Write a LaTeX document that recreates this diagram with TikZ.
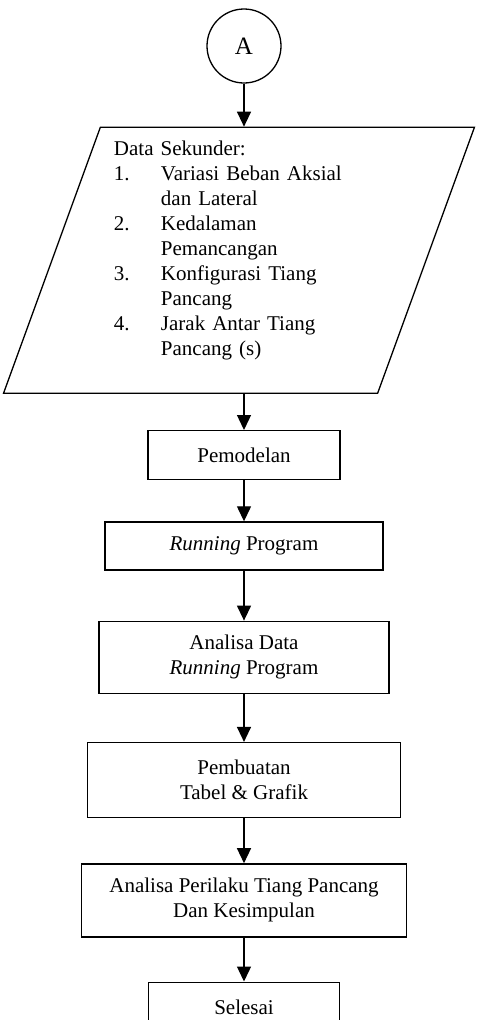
\documentclass[tikz,border=0pt]{standalone}
\usepackage{fontspec}
\setmainfont{Liberation Serif}
\usetikzlibrary{shapes.geometric,arrows.meta,positioning}

\newcommand{\numitem}[1]{\makebox[47pt][l]{#1}}

\begin{document}
\begin{tikzpicture}[
    x=1pt, y=1pt,
    every node/.style={font=\fontsize{21}{25}\selectfont},
    connector/.style={circle, draw, line width=1.3pt, minimum size=74pt, inner sep=0pt, font=\fontsize{25}{30}\selectfont},
    input/.style={trapezium, trapezium left angle=70, trapezium right angle=110, trapezium stretches=true, draw, line width=1.3pt, text width=250pt, align=left, minimum width=472pt, minimum height=266pt},
    process/.style={rectangle, draw, line width=1.3pt, align=center},
    arrow/.style={line width=1.3pt, -{Triangle[length=15pt,width=14pt]}}
]

% Page size
\useasboundingbox (0,0) rectangle (477,-1020);
\clip (0,0) rectangle (477,-1020);

% Connector
\node[connector] (conA) at (244,-46) {A};

% Input data
\node[input, below=43pt of conA, xshift=-5pt] (data) {Data Sekunder:\\
    \numitem{1.}Variasi Beban Aksial\\
    \numitem{}dan Lateral\\
    \numitem{2.}Kedalaman\\
    \numitem{}Pemancangan\\
    \numitem{3.}Konfigurasi Tiang\\
    \numitem{}Pancang\\
    \numitem{4.}Jarak Antar Tiang\\
    \numitem{}Pancang (s)\\ \mbox{}};

% Process steps
\node[process, minimum width=192pt, minimum height=49pt, below=36pt of data, xshift=5pt] (model) {Pemodelan};
\node[process, minimum width=278pt, minimum height=48pt, below=41pt of model] (run) {\textit{Running} Program};
\node[process, minimum width=290pt, minimum height=72pt, below=50pt of run] (analysis) {Analisa Data\\\textit{Running} Program};
\node[process, minimum width=313pt, minimum height=75pt, below=48pt of analysis] (tables) {Pembuatan\\Tabel \& Grafik};
\node[process, minimum width=325pt, minimum height=73pt, below=45pt of tables] (behaviour) {Analisa Perilaku Tiang Pancang\\Dan Kesimpulan};
\node[process, minimum width=191pt, minimum height=50pt, below=44pt of behaviour] (done) {Selesai};

% Flow
\draw[arrow] (conA) -- (conA |- data.north);
\draw[arrow] (data.south -| model) -- (model);
\draw[arrow] (model) -- (run);
\draw[arrow] (run) -- (analysis);
\draw[arrow] (analysis) -- (tables);
\draw[arrow] (tables) -- (behaviour);
\draw[arrow] (behaviour) -- (done);

\end{tikzpicture}
\end{document}
